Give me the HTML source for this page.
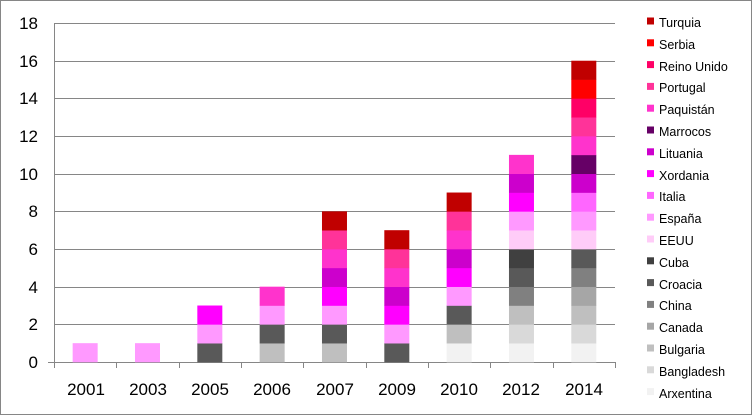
<!DOCTYPE html>
<html><head><meta charset="utf-8"><style>
body{margin:0;background:#fff}
svg{display:block;font-family:"Liberation Sans",Calibri,sans-serif}
</style></head><body>
<svg id="s" width="752" height="415" viewBox="0 0 752 415">
<rect x="0.5" y="0.5" width="751" height="414" fill="#fff" stroke="#868686"/>
<g stroke="#868686" stroke-width="1">
<line x1="54" y1="23.5" x2="615" y2="23.5"/>
<line x1="54" y1="61.5" x2="615" y2="61.5"/>
<line x1="54" y1="98.5" x2="615" y2="98.5"/>
<line x1="54" y1="136.5" x2="615" y2="136.5"/>
<line x1="54" y1="174.5" x2="615" y2="174.5"/>
<line x1="54" y1="211.5" x2="615" y2="211.5"/>
<line x1="54" y1="249.5" x2="615" y2="249.5"/>
<line x1="54" y1="287.5" x2="615" y2="287.5"/>
<line x1="54" y1="324.5" x2="615" y2="324.5"/>
<line x1="54" y1="362.5" x2="615" y2="362.5"/>
<line x1="54.5" y1="23" x2="54.5" y2="362"/>
<line x1="48" y1="362.5" x2="54" y2="362.5"/>
</g>
<g id="bars"></g>
<g id="ticks" stroke="#868686"></g>
<g font-size="17" fill="#000" text-anchor="end">
<text x="38" y="29">18</text><text x="38" y="67">16</text><text x="38" y="104">14</text>
<text x="38" y="142">12</text><text x="38" y="180">10</text><text x="38" y="217">8</text>
<text x="38" y="255">6</text><text x="38" y="293">4</text><text x="38" y="330">2</text>
<text x="38" y="368">0</text>
</g>
<g font-size="17" fill="#000" text-anchor="middle">
<text x="86" y="395">2001</text><text x="148" y="395">2003</text><text x="210" y="395">2005</text>
<text x="272" y="395">2006</text><text x="335" y="395">2007</text><text x="397" y="395">2009</text>
<text x="459" y="395">2010</text><text x="521" y="395">2012</text><text x="584" y="395">2014</text>
</g>
<g id="leg"></g>
<g font-size="12.5" fill="#000">
<text x="659" y="27">Turquia</text><text x="659" y="49">Serbia</text><text x="659" y="71">Reino Unido</text>
<text x="659" y="92">Portugal</text><text x="659" y="114">Paquistán</text><text x="659" y="136">Marrocos</text>
<text x="659" y="158">Lituania</text><text x="659" y="180">Xordania</text><text x="659" y="201">Italia</text>
<text x="659" y="223">España</text><text x="659" y="245">EEUU</text><text x="659" y="267">Cuba</text>
<text x="659" y="289">Croacia</text><text x="659" y="310">China</text><text x="659" y="332">Canada</text>
<text x="659" y="354">Bulgaria</text><text x="659" y="376">Bangladesh</text><text x="659" y="398">Arxentina</text>
</g>
</svg>
<script>
var C={Ar:"#f2f2f2",Ba:"#d9d9d9",Bu:"#bfbfbf",Ca:"#a6a6a6",Ch:"#808080",Cr:"#595959",Cu:"#404040",EE:"#ffccf8",Es:"#ff99ff",It:"#ff66ff",Xo:"#ff00ff",Li:"#cc00cc",Ma:"#660066",Pa:"#ff33cc",Po:"#ff3399",Re:"#ff0066",Se:"#ff0000",Tu:"#c00000"};
var order=["Tu","Se","Re","Po","Pa","Ma","Li","Xo","It","Es","EE","Cu","Cr","Ch","Ca","Bu","Ba","Ar"];
var D=[["Es"],["Es"],["Cr","Es","Xo"],["Bu","Cr","Es","Pa"],["Bu","Cr","Es","Xo","Li","Pa","Po","Tu"],
["Cr","Es","Xo","Li","Pa","Po","Tu"],["Ar","Bu","Cr","Es","Xo","Li","Pa","Po","Tu"],
["Ar","Ba","Bu","Ch","Cr","Cu","EE","Es","Xo","Li","Pa"],
["Ar","Ba","Bu","Ca","Ch","Cr","EE","Es","It","Li","Ma","Pa","Po","Re","Se","Tu"]];
var ns="http://www.w3.org/2000/svg",b=document.getElementById("bars"),u=18.83,w=62.33;
function R(g,x,y,wd,h,f){var r=document.createElementNS(ns,"rect");r.setAttribute("x",x);r.setAttribute("y",y);r.setAttribute("width",wd);r.setAttribute("height",h);r.setAttribute("fill",f);g.appendChild(r);}
D.forEach(function(s,i){var cx=54+w*(i+0.5);s.forEach(function(k,j){R(b,cx-12.5,362-u*(j+1),25,u+0.3,C[k]);});});
var t=document.getElementById("ticks");
for(var i=0;i<=9;i++){var l=document.createElementNS(ns,"line");var x=Math.round(54+w*i)+0.5;l.setAttribute("x1",x);l.setAttribute("x2",x);l.setAttribute("y1",362);l.setAttribute("y2",368);t.appendChild(l);}
var g=document.getElementById("leg");
order.forEach(function(k,i){R(g,647,17.5+i*21.8,7,7,C[k]);});
</script>
</body></html>
